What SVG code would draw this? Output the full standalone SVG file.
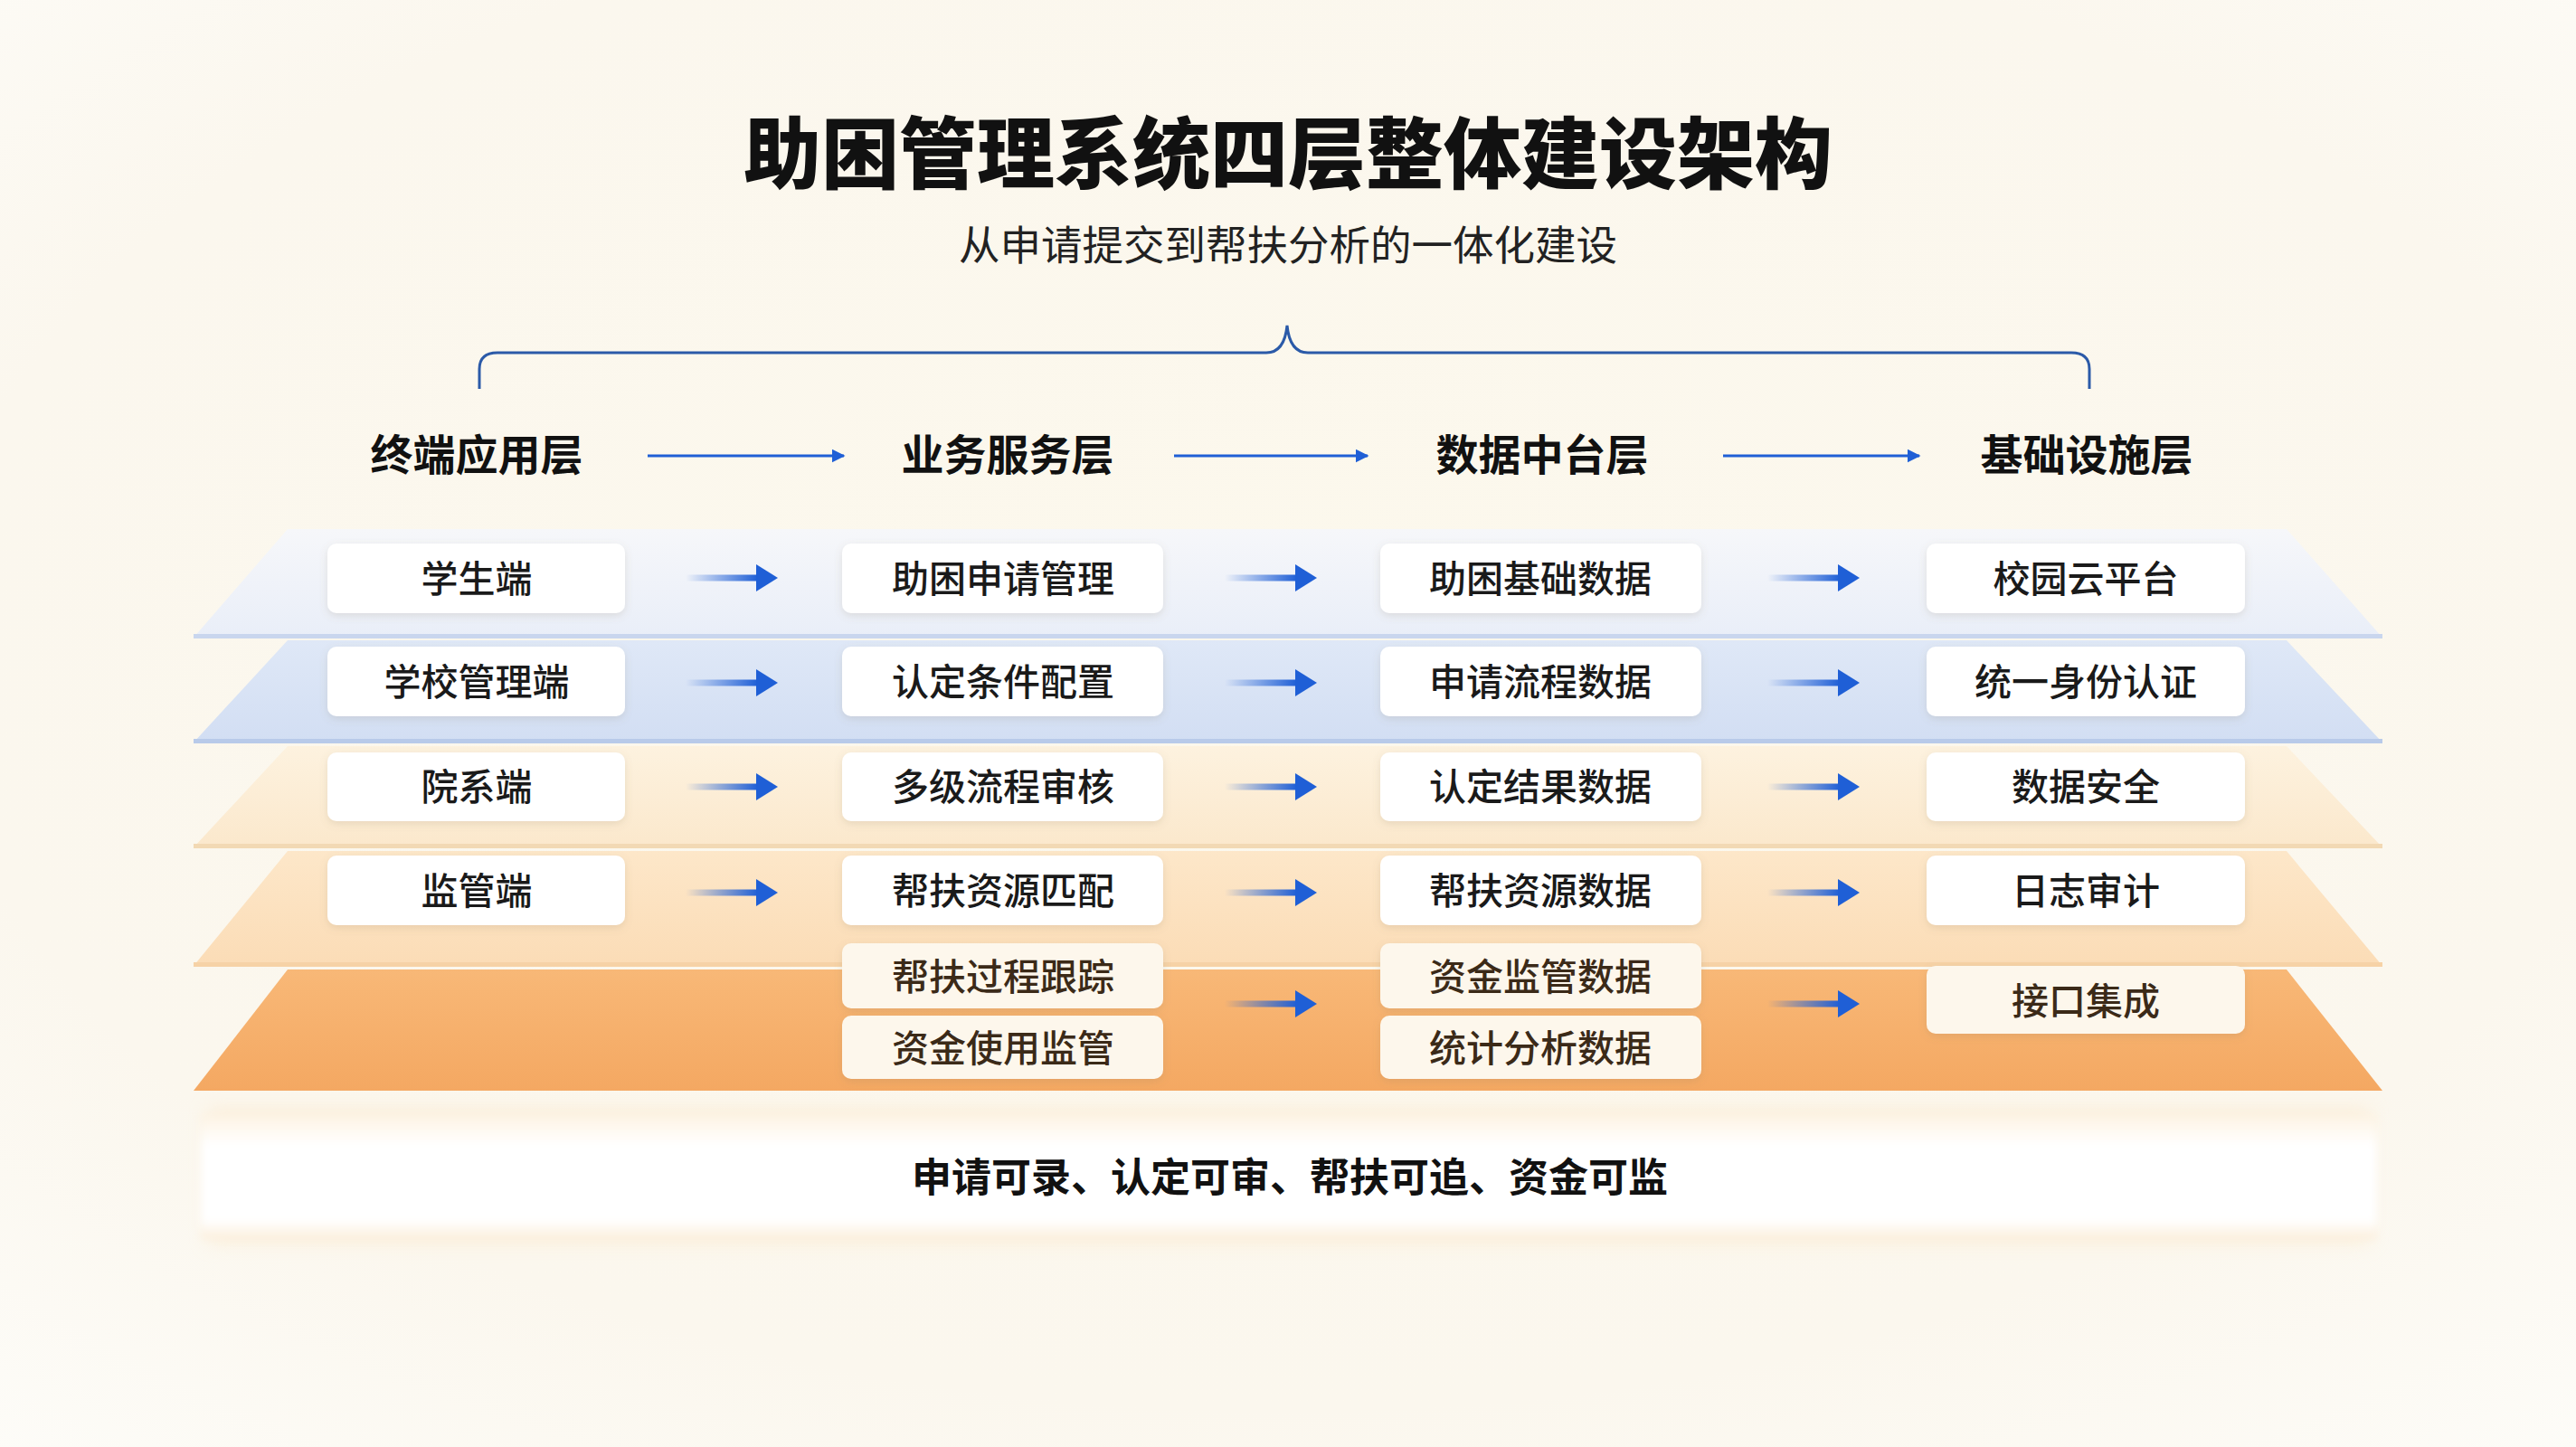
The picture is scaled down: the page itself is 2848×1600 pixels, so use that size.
<svg xmlns="http://www.w3.org/2000/svg" width="2848" height="1600" viewBox="0 0 2848 1600">
<defs>
  <radialGradient id="bg" cx="50%" cy="45%" r="75%">
    <stop offset="0" stop-color="#fcf8ec"/>
    <stop offset="0.7" stop-color="#fbf7ee"/>
    <stop offset="1" stop-color="#fdfcf8"/>
  </radialGradient>
  <linearGradient id="g1" x1="0" y1="0" x2="0" y2="1">
    <stop offset="0" stop-color="#f6f7fa"/>
    <stop offset="1" stop-color="#e9eef8"/>
  </linearGradient>
  <linearGradient id="g2" x1="0" y1="0" x2="0" y2="1">
    <stop offset="0" stop-color="#dfe8f7"/>
    <stop offset="1" stop-color="#d2def3"/>
  </linearGradient>
  <linearGradient id="g3" x1="0" y1="0" x2="0" y2="1">
    <stop offset="0" stop-color="#fdf2df"/>
    <stop offset="1" stop-color="#fbe8cc"/>
  </linearGradient>
  <linearGradient id="g4" x1="0" y1="0" x2="0" y2="1">
    <stop offset="0" stop-color="#fde7c9"/>
    <stop offset="1" stop-color="#fbdcb6"/>
  </linearGradient>
  <linearGradient id="g5" x1="0" y1="0" x2="0" y2="1">
    <stop offset="0" stop-color="#f8b877"/>
    <stop offset="1" stop-color="#f4a862"/>
  </linearGradient>
  <linearGradient id="panel" x1="0" y1="0" x2="0" y2="1">
    <stop offset="0" stop-color="#fdf3e3"/>
    <stop offset="0.25" stop-color="#ffffff"/>
    <stop offset="0.85" stop-color="#ffffff"/>
    <stop offset="1" stop-color="#fcefdc"/>
  </linearGradient>
  <linearGradient id="shaft" x1="0" y1="0" x2="1" y2="0">
    <stop offset="0" stop-color="#1f5fd6" stop-opacity="0"/>
    <stop offset="1" stop-color="#1f5fd6"/>
  </linearGradient>
  <filter id="sh" x="-10%" y="-20%" width="120%" height="150%">
    <feDropShadow dx="0" dy="3" stdDeviation="4" flood-color="#8a7a60" flood-opacity="0.18"/>
  </filter>
  <filter id="blur" x="-5%" y="-30%" width="110%" height="160%">
    <feGaussianBlur stdDeviation="10"/>
  </filter>
  <filter id="soft" x="-2%" y="-10%" width="104%" height="120%">
    <feGaussianBlur stdDeviation="4"/>
  </filter>
  <marker id="ah" viewBox="0 0 10 10" refX="9" refY="5" markerWidth="5" markerHeight="5" orient="auto" markerUnits="strokeWidth">
    <path d="M0,0 L10,5 L0,10 Z" fill="#1f5fd6"/>
  </marker>
  <g id="rowArrow">
    <rect x="0" y="-3.5" width="80" height="7" fill="url(#shaft)"/>
    <path d="M78,-15 L102,0 L78,15 Z" fill="#1f5fd6"/>
  </g>
</defs>
<style>
  .title{font-family:"Noto Sans CJK SC","Liberation Sans",sans-serif;font-weight:900;font-size:86px;fill:#111;}
  .sub{font-family:"Noto Sans CJK SC","Liberation Sans",sans-serif;font-weight:400;font-size:45.5px;fill:#222;}
  .hdr{font-family:"Noto Sans CJK SC","Liberation Sans",sans-serif;font-weight:700;font-size:47px;fill:#111;}
  .lbl{font-family:"Noto Sans CJK SC","Liberation Sans",sans-serif;font-weight:500;font-size:41px;fill:#1a1a1a;}
  .lbl2{font-family:"Noto Sans CJK SC","Liberation Sans",sans-serif;font-weight:500;font-size:41px;fill:#3b2a18;}
  .foot{font-family:"Noto Sans CJK SC","Liberation Sans",sans-serif;font-weight:700;font-size:44px;fill:#111;}
  .box{fill:#ffffff;filter:url(#sh);}
  .box2{fill:#fdf7ec;filter:url(#sh);}
</style>

<rect x="0" y="0" width="2848" height="1600" fill="url(#bg)"/>

<!-- title -->
<text class="title" x="1424" y="164" text-anchor="middle" dominant-baseline="central">助困管理系统四层整体建设架构</text>
<text class="sub" x="1424" y="268" text-anchor="middle" dominant-baseline="central">从申请提交到帮扶分析的一体化建设</text>

<!-- brace -->
<path d="M530,430 L530,408 Q530,390 550,390 L1400,390 Q1420,390 1423,360 Q1426,390 1446,390 L2290,390 Q2310,390 2310,408 L2310,430" fill="none" stroke="#2b5aa8" stroke-width="3"/>

<!-- layer slabs -->
<g id="layers">
  <path d="M318,585 L2528,585 L2634,705 L214,705 Z" fill="url(#g1)"/>
  <path d="M214,701 L2634,701 L2634,706 L214,706 Z" fill="#c9d6ee"/>
  <path d="M318,708 L2528,708 L2634,821 L214,821 Z" fill="url(#g2)"/>
  <path d="M214,817 L2634,817 L2634,822 L214,822 Z" fill="#b8cae9"/>
  <path d="M318,825 L2528,825 L2634,937 L214,937 Z" fill="url(#g3)"/>
  <path d="M214,933 L2634,933 L2634,938 L214,938 Z" fill="#f2d9b4"/>
  <path d="M318,941 L2528,941 L2634,1068 L214,1068 Z" fill="url(#g4)"/>
  <path d="M214,1064 L2634,1064 L2634,1069 L214,1069 Z" fill="#f6d2a6"/>
  <path d="M318,1072 L2528,1072 L2634,1206 L214,1206 Z" fill="url(#g5)"/>
</g>

<!-- bottom panel -->
<g id="summary">
  <rect x="230" y="1225" width="2390" height="150" fill="#fbe6c8" opacity="0.5" filter="url(#blur)"/>
  <rect x="222" y="1232" width="2406" height="138" fill="url(#panel)" filter="url(#soft)"/>
  <text class="foot" x="1426" y="1299" text-anchor="middle" dominant-baseline="central">申请可录、认定可审、帮扶可追、资金可监</text>
</g>

<!-- headers -->
<g id="h1"><text class="hdr" x="527" y="499" text-anchor="middle" dominant-baseline="central">终端应用层</text></g>
<g id="h2"><text class="hdr" x="1114" y="499" text-anchor="middle" dominant-baseline="central">业务服务层</text></g>
<g id="h3"><text class="hdr" x="1705" y="499" text-anchor="middle" dominant-baseline="central">数据中台层</text></g>
<g id="h4"><text class="hdr" x="2307" y="499" text-anchor="middle" dominant-baseline="central">基础设施层</text></g>

<!-- connectors -->
<g id="connectors">
  <line x1="716" y1="504" x2="933" y2="504" stroke="#1f5fd6" stroke-width="3" marker-end="url(#ah)"/>
  <line x1="1298" y1="504" x2="1512" y2="504" stroke="#1f5fd6" stroke-width="3" marker-end="url(#ah)"/>
  <line x1="1905" y1="504" x2="2122" y2="504" stroke="#1f5fd6" stroke-width="3" marker-end="url(#ah)"/>

  <use href="#rowArrow" x="758" y="639"/>
  <use href="#rowArrow" x="1354" y="639"/>
  <use href="#rowArrow" x="1954" y="639"/>
  <use href="#rowArrow" x="758" y="755"/>
  <use href="#rowArrow" x="1354" y="755"/>
  <use href="#rowArrow" x="1954" y="755"/>
  <use href="#rowArrow" x="758" y="870"/>
  <use href="#rowArrow" x="1354" y="870"/>
  <use href="#rowArrow" x="1954" y="870"/>
  <use href="#rowArrow" x="758" y="987"/>
  <use href="#rowArrow" x="1354" y="987"/>
  <use href="#rowArrow" x="1954" y="987"/>
  <use href="#rowArrow" x="1354" y="1110"/>
  <use href="#rowArrow" x="1954" y="1110"/>
</g>

<!-- column 1 -->
<g id="n-student"><rect class="box" x="362" y="601" width="329" height="77" rx="10"/><text class="lbl" x="527" y="637" text-anchor="middle" dominant-baseline="central">学生端</text></g>
<g id="n-school"><rect class="box" x="362" y="715" width="329" height="77" rx="10"/><text class="lbl" x="527" y="751" text-anchor="middle" dominant-baseline="central">学校管理端</text></g>
<g id="n-dept"><rect class="box" x="362" y="832" width="329" height="76" rx="10"/><text class="lbl" x="527" y="867" text-anchor="middle" dominant-baseline="central">院系端</text></g>
<g id="n-super"><rect class="box" x="362" y="946" width="329" height="77" rx="10"/><text class="lbl" x="527" y="982" text-anchor="middle" dominant-baseline="central">监管端</text></g>

<!-- column 2 -->
<g id="n-apply"><rect class="box" x="931" y="601" width="355" height="77" rx="10"/><text class="lbl" x="1109" y="637" text-anchor="middle" dominant-baseline="central">助困申请管理</text></g>
<g id="n-cond"><rect class="box" x="931" y="715" width="355" height="77" rx="10"/><text class="lbl" x="1109" y="751" text-anchor="middle" dominant-baseline="central">认定条件配置</text></g>
<g id="n-flow"><rect class="box" x="931" y="832" width="355" height="76" rx="10"/><text class="lbl" x="1109" y="867" text-anchor="middle" dominant-baseline="central">多级流程审核</text></g>
<g id="n-match"><rect class="box" x="931" y="946" width="355" height="77" rx="10"/><text class="lbl" x="1109" y="982" text-anchor="middle" dominant-baseline="central">帮扶资源匹配</text></g>
<g id="n-track"><rect class="box2" x="931" y="1043" width="355" height="72" rx="10"/><text class="lbl2" x="1109" y="1077" text-anchor="middle" dominant-baseline="central">帮扶过程跟踪</text></g>
<g id="n-fund"><rect class="box2" x="931" y="1123" width="355" height="70" rx="10"/><text class="lbl2" x="1109" y="1156" text-anchor="middle" dominant-baseline="central">资金使用监管</text></g>

<!-- column 3 -->
<g id="n-base"><rect class="box" x="1526" y="601" width="355" height="77" rx="10"/><text class="lbl" x="1703" y="637" text-anchor="middle" dominant-baseline="central">助困基础数据</text></g>
<g id="n-proc"><rect class="box" x="1526" y="715" width="355" height="77" rx="10"/><text class="lbl" x="1703" y="751" text-anchor="middle" dominant-baseline="central">申请流程数据</text></g>
<g id="n-result"><rect class="box" x="1526" y="832" width="355" height="76" rx="10"/><text class="lbl" x="1703" y="867" text-anchor="middle" dominant-baseline="central">认定结果数据</text></g>
<g id="n-res"><rect class="box" x="1526" y="946" width="355" height="77" rx="10"/><text class="lbl" x="1703" y="982" text-anchor="middle" dominant-baseline="central">帮扶资源数据</text></g>
<g id="n-fundata"><rect class="box2" x="1526" y="1043" width="355" height="72" rx="10"/><text class="lbl2" x="1703" y="1077" text-anchor="middle" dominant-baseline="central">资金监管数据</text></g>
<g id="n-stat"><rect class="box2" x="1526" y="1123" width="355" height="70" rx="10"/><text class="lbl2" x="1703" y="1156" text-anchor="middle" dominant-baseline="central">统计分析数据</text></g>

<!-- column 4 -->
<g id="n-cloud"><rect class="box" x="2130" y="601" width="352" height="77" rx="10"/><text class="lbl" x="2306" y="637" text-anchor="middle" dominant-baseline="central">校园云平台</text></g>
<g id="n-auth"><rect class="box" x="2130" y="715" width="352" height="77" rx="10"/><text class="lbl" x="2306" y="751" text-anchor="middle" dominant-baseline="central">统一身份认证</text></g>
<g id="n-sec"><rect class="box" x="2130" y="832" width="352" height="76" rx="10"/><text class="lbl" x="2306" y="867" text-anchor="middle" dominant-baseline="central">数据安全</text></g>
<g id="n-log"><rect class="box" x="2130" y="946" width="352" height="77" rx="10"/><text class="lbl" x="2306" y="982" text-anchor="middle" dominant-baseline="central">日志审计</text></g>
<g id="n-api"><rect class="box2" x="2130" y="1068" width="352" height="75" rx="10"/><text class="lbl2" x="2306" y="1104" text-anchor="middle" dominant-baseline="central">接口集成</text></g>
</svg>
